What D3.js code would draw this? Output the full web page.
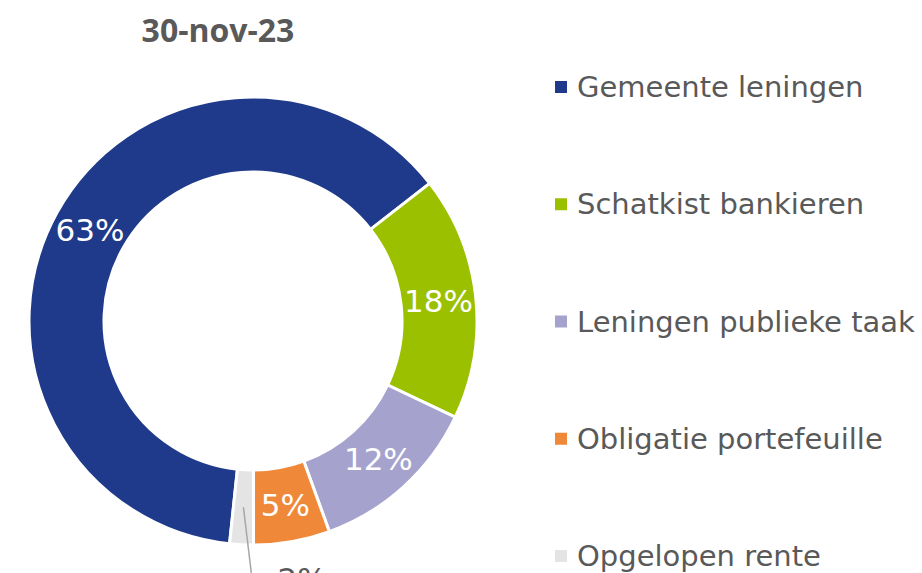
<!DOCTYPE html>
<html>
<head>
<meta charset="utf-8">
<script src="https://cdn.jsdelivr.net/npm/d3@7"></script>
<style>
  html, body { margin: 0; padding: 0; background: #fff; }
  svg { display: block; }
</style>
</head>
<body>
<svg id="chart" width="922" height="573"></svg>
<script>
const title = "30-nov-23";
const categories = ["Gemeente leningen", "Schatkist bankieren", "Leningen publieke taak", "Obligatie portefeuille", "Opgelopen rente"];
const values = [62.8, 17.6, 12.4, 5.5, 1.7];
const labels = ["63%", "18%", "12%", "5%", "2%"];
const colors = ["#1F3A8A", "#9BC000", "#A5A3CD", "#F0883A", "#E4E4E4"];

const svg = d3.select("#chart");
const cx = 253, cy = 321, rOuter = 224, rInner = 149;
const textColor = "#595959";

svg.append("text")
  .attr("x", 218).attr("y", 42)
  .attr("text-anchor", "middle")
  .attr("font-family", "'Open Sans', 'Liberation Sans', sans-serif")
  .attr("font-weight", "bold")
  .attr("font-size", 32)
  .attr("fill", textColor)
  .text(title);

const start = 186 * Math.PI / 180;
const pie = d3.pie().sort(null).value(d => d).startAngle(start).endAngle(start + 2 * Math.PI);
const arcs = pie(values);
const arc = d3.arc().innerRadius(rInner).outerRadius(rOuter);

const g = svg.append("g").attr("transform", `translate(${cx},${cy})`);
g.selectAll("path").data(arcs).enter().append("path")
  .attr("d", arc)
  .attr("fill", (d, i) => colors[i])
  .attr("stroke", "#fff")
  .attr("stroke-width", 3);

const fontFam = "'DejaVu Sans', Verdana, sans-serif";
arcs.forEach((d, i) => {
  const c = arc.centroid(d);
  if (i < 4) {
    g.append("text")
      .attr("x", c[0]).attr("y", c[1])
      .attr("text-anchor", "middle")
      .attr("dominant-baseline", "central")
      .attr("font-family", fontFam)
      .attr("font-size", 31)
      .attr("fill", "#fff")
      .text(labels[i]);
  } else {
    g.append("line")
      .attr("x1", c[0]).attr("y1", c[1])
      .attr("x2", c[0] + 9).attr("y2", c[1] + 75)
      .attr("stroke", "#A6A6A6").attr("stroke-width", 1.5);
    g.append("text")
      .attr("x", c[0] + 34).attr("y", c[1] + 83)
      .attr("font-family", fontFam)
      .attr("font-size", 31)
      .attr("fill", textColor)
      .text(labels[i]);
  }
});

const legend = svg.append("g");
const ly = d3.scalePoint().domain(categories).range([87, 556]);
categories.forEach((c, i) => {
  legend.append("rect")
    .attr("x", 555).attr("y", ly(c) - 6)
    .attr("width", 12).attr("height", 12)
    .attr("fill", colors[i]);
  legend.append("text")
    .attr("x", 577).attr("y", ly(c))
    .attr("dominant-baseline", "central")
    .attr("font-family", fontFam)
    .attr("font-size", 29)
    .attr("fill", textColor)
    .text(c);
});
</script>
</body>
</html>
